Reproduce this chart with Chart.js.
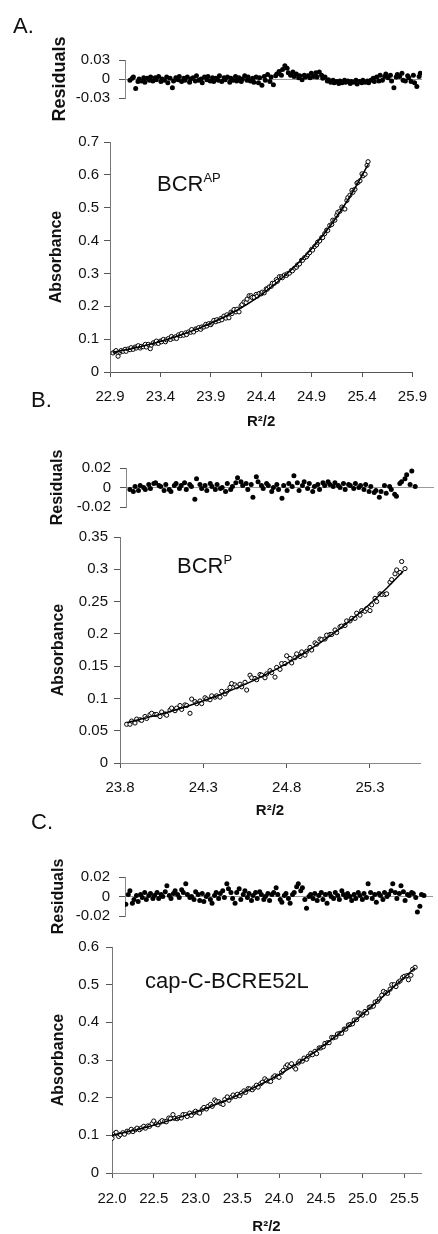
<!DOCTYPE html>
<html>
<head>
<meta charset="utf-8">
<script src="https://cdn.jsdelivr.net/npm/chart.js@4.4.1/dist/chart.umd.min.js"></script>
<style>
  body { margin: 0; background: #fff; }
  #fig { position: relative; width: 438px; height: 1234px; overflow: hidden;
         font-family: "Liberation Sans", Arial, Helvetica, sans-serif; color: #111; }
  #fig canvas { position: absolute; left: 0; }
  .lbl { position: absolute; font-size: 22px; line-height: 22px; white-space: nowrap; }
  .lbl .sup { position: relative; top: -9px; font-size: 13px; }
</style>
</head>
<body>
<div id="fig">
  <canvas id="resA"></canvas>
  <canvas id="absA"></canvas>
  <canvas id="resB"></canvas>
  <canvas id="absB"></canvas>
  <canvas id="resC"></canvas>
  <canvas id="absC"></canvas>
  <div class="lbl" style="left:13px;top:15px">A.</div>
  <div class="lbl" style="left:31px;top:389px">B.</div>
  <div class="lbl" style="left:31px;top:811px">C.</div>
  <div class="lbl" style="left:157px;top:173px">BCR<span class="sup">AP</span></div>
  <div class="lbl" style="left:177px;top:555px">BCR<span class="sup">P</span></div>
  <div class="lbl" style="left:145px;top:970px">cap-C-BCRE52L</div>
</div>
<script>
// ---- panel A: BCR^AP ----
const xA = [22.93, 22.95, 22.96, 22.98, 23.00, 23.01, 23.03, 23.05, 23.06,
            23.08, 23.10, 23.11, 23.13, 23.15, 23.16, 23.18, 23.20, 23.21,
            23.23, 23.25, 23.26, 23.28, 23.30, 23.31, 23.33, 23.35, 23.36,
            23.38, 23.40, 23.41, 23.43, 23.45, 23.46, 23.48, 23.50, 23.51,
            23.53, 23.55, 23.56, 23.58, 23.60, 23.61, 23.63, 23.65, 23.66,
            23.68, 23.70, 23.71, 23.73, 23.75, 23.76, 23.78, 23.80, 23.81,
            23.83, 23.85, 23.86, 23.88, 23.90, 23.91, 23.93, 23.95, 23.96,
            23.98, 24.00, 24.01, 24.03, 24.05, 24.06, 24.08, 24.10, 24.11,
            24.13, 24.15, 24.16, 24.18, 24.20, 24.21, 24.23, 24.25, 24.26,
            24.28, 24.30, 24.31, 24.33, 24.35, 24.36, 24.38, 24.40, 24.41,
            24.43, 24.45, 24.46, 24.48, 24.50, 24.51, 24.53, 24.55, 24.56,
            24.58, 24.60, 24.61, 24.63, 24.65, 24.66, 24.68, 24.70, 24.71,
            24.73, 24.75, 24.76, 24.78, 24.80, 24.81, 24.83, 24.85, 24.86,
            24.88, 24.90, 24.91, 24.93, 24.95, 24.96, 24.98, 25.00, 25.01,
            25.03, 25.05, 25.06, 25.08, 25.10, 25.11, 25.13, 25.15, 25.16,
            25.18, 25.20, 25.21, 25.23, 25.25, 25.26, 25.28, 25.30, 25.31,
            25.33, 25.35, 25.36, 25.38, 25.40, 25.41, 25.43, 25.45, 25.46];
const absA = [0.058, 0.062, 0.065, 0.048, 0.060, 0.065, 0.063, 0.069, 0.063,
              0.070, 0.068, 0.074, 0.069, 0.076, 0.073, 0.080, 0.073, 0.078,
              0.077, 0.084, 0.076, 0.084, 0.071, 0.082, 0.089, 0.088, 0.094,
              0.087, 0.094, 0.092, 0.099, 0.092, 0.098, 0.102, 0.099, 0.108,
              0.103, 0.107, 0.102, 0.113, 0.111, 0.117, 0.112, 0.119, 0.114,
              0.122, 0.121, 0.129, 0.122, 0.131, 0.129, 0.135, 0.130, 0.137,
              0.137, 0.145, 0.140, 0.147, 0.144, 0.149, 0.157, 0.153, 0.159,
              0.156, 0.163, 0.159, 0.170, 0.164, 0.174, 0.165, 0.182, 0.178,
              0.190, 0.183, 0.191, 0.183, 0.201, 0.205, 0.213, 0.211, 0.222,
              0.232, 0.232, 0.227, 0.227, 0.236, 0.231, 0.239, 0.238, 0.243,
              0.241, 0.253, 0.252, 0.259, 0.261, 0.270, 0.270, 0.281, 0.276,
              0.290, 0.290, 0.287, 0.295, 0.294, 0.299, 0.301, 0.309, 0.308,
              0.316, 0.319, 0.326, 0.329, 0.340, 0.340, 0.348, 0.351, 0.357,
              0.363, 0.373, 0.371, 0.382, 0.387, 0.395, 0.399, 0.409, 0.409,
              0.421, 0.432, 0.431, 0.446, 0.449, 0.462, 0.462, 0.477, 0.486,
              0.489, 0.502, 0.497, 0.496, 0.522, 0.531, 0.538, 0.553, 0.547,
              0.556, 0.575, 0.577, 0.582, 0.603, 0.597, 0.602, 0.629, 0.640];
const resA = [-0.002, 0.001, 0.003, -0.015, -0.004, 0.000, -0.003, 0.002, -0.005,
              0.001, -0.002, 0.003, -0.003, 0.002, -0.001, 0.004, -0.004, 0.000,
              -0.002, 0.003, -0.006, 0.001, -0.014, -0.003, 0.002, -0.001, 0.004,
              -0.004, 0.001, -0.002, 0.003, -0.005, 0.000, 0.002, -0.003, 0.005,
              -0.002, 0.000, -0.006, 0.003, -0.001, 0.004, -0.003, 0.002, -0.004,
              0.001, -0.002, 0.005, -0.004, 0.002, -0.001, 0.003, -0.005, 0.001,
              -0.002, 0.004, -0.003, 0.002, -0.004, 0.000, 0.005, -0.002, 0.003,
              -0.003, 0.001, -0.005, 0.003, -0.006, 0.002, -0.010, 0.004, -0.002,
              0.007, -0.004, 0.003, -0.009, 0.005, 0.008, 0.012, 0.006, 0.015,
              0.021, 0.017, 0.010, 0.006, 0.011, 0.004, 0.008, 0.002, 0.005,
              -0.001, 0.006, 0.003, 0.005, 0.002, 0.009, 0.004, 0.010, 0.003,
              0.011, 0.006, 0.001, 0.003, -0.003, -0.001, -0.005, -0.002, -0.006,
              -0.004, -0.007, -0.003, -0.006, -0.002, -0.005, -0.003, -0.007, -0.004,
              -0.005, -0.002, -0.008, -0.004, -0.006, -0.002, -0.005, -0.003, -0.006,
              -0.002, 0.001, -0.004, 0.003, -0.003, 0.006, -0.002, 0.004, 0.008,
              0.002, 0.006, -0.003, -0.014, 0.003, 0.007, 0.004, 0.009, -0.002,
              -0.003, 0.005, 0.002, -0.004, 0.006, -0.006, -0.012, 0.004, 0.009];
const fitXA = [22.93, 23.2, 23.5, 23.8, 24.1, 24.4, 24.7, 24.9, 25.1, 25.3, 25.46];
const fitYA = [0.060, 0.077, 0.102, 0.135, 0.178, 0.235, 0.311, 0.375, 0.451, 0.544, 0.631];
const ticksA = [22.9, 23.4, 23.9, 24.4, 24.9, 25.4, 25.9];
const resTicksA = [-0.03, 0, 0.03];

// ---- panel B: BCR^P ----
const xB = [23.84, 23.86, 23.87, 23.89, 23.90, 23.92, 23.93, 23.95, 23.96, 23.98,
            23.99, 24.01, 24.02, 24.04, 24.05, 24.07, 24.08, 24.10, 24.11, 24.13,
            24.14, 24.16, 24.17, 24.19, 24.20, 24.22, 24.23, 24.25, 24.26, 24.28,
            24.29, 24.31, 24.32, 24.34, 24.35, 24.37, 24.38, 24.40, 24.41, 24.43,
            24.44, 24.46, 24.47, 24.49, 24.50, 24.52, 24.53, 24.55, 24.56, 24.58,
            24.59, 24.61, 24.62, 24.64, 24.65, 24.67, 24.68, 24.70, 24.71, 24.73,
            24.74, 24.76, 24.77, 24.79, 24.80, 24.82, 24.83, 24.85, 24.86, 24.88,
            24.89, 24.91, 24.92, 24.94, 24.95, 24.97, 24.98, 25.00, 25.01, 25.03,
            25.04, 25.06, 25.07, 25.09, 25.10, 25.12, 25.13, 25.15, 25.16, 25.18,
            25.19, 25.21, 25.22, 25.24, 25.25, 25.27, 25.28, 25.30, 25.31, 25.33,
            25.34, 25.36, 25.37, 25.39, 25.40, 25.42, 25.43, 25.45, 25.46, 25.48,
            25.49, 25.51];
const absB = [0.060, 0.060, 0.065, 0.062, 0.068, 0.067, 0.066, 0.072, 0.069, 0.075,
              0.077, 0.075, 0.075, 0.072, 0.079, 0.076, 0.074, 0.082, 0.085, 0.081,
              0.085, 0.089, 0.083, 0.090, 0.089, 0.077, 0.099, 0.095, 0.092, 0.096,
              0.092, 0.101, 0.099, 0.098, 0.104, 0.102, 0.104, 0.102, 0.111, 0.107,
              0.111, 0.117, 0.123, 0.121, 0.118, 0.122, 0.118, 0.125, 0.113, 0.136,
              0.132, 0.131, 0.129, 0.137, 0.136, 0.132, 0.138, 0.143, 0.140, 0.133,
              0.148, 0.145, 0.154, 0.154, 0.166, 0.162, 0.155, 0.163, 0.169, 0.165,
              0.172, 0.167, 0.173, 0.179, 0.175, 0.186, 0.184, 0.192, 0.191, 0.192,
              0.198, 0.199, 0.199, 0.206, 0.202, 0.211, 0.212, 0.213, 0.220, 0.220,
              0.224, 0.224, 0.232, 0.229, 0.236, 0.235, 0.239, 0.236, 0.245, 0.255,
              0.250, 0.262, 0.261, 0.261, 0.262, 0.280, 0.284, 0.293, 0.299, 0.295,
              0.312, 0.301];
const resB = [-0.002, -0.004, 0.001, -0.003, 0.002, 0.000, -0.002, 0.003, -0.001, 0.004,
              0.005, 0.002, 0.001, -0.003, 0.003, -0.002, -0.004, 0.002, 0.004, -0.001,
              0.002, 0.005, -0.002, 0.003, 0.001, -0.012, 0.009, 0.003, -0.001, 0.002,
              -0.003, 0.004, 0.001, -0.002, 0.003, -0.001, 0.000, -0.004, 0.004, -0.002,
              0.001, 0.005, 0.010, 0.006, 0.002, 0.004, -0.002, 0.003, -0.010, 0.011,
              0.006, 0.002, -0.001, 0.004, 0.002, -0.004, 0.000, 0.003, -0.002, -0.011,
              0.002, -0.003, 0.004, 0.001, 0.012, 0.005, -0.003, 0.002, 0.006, -0.001,
              0.004, -0.004, 0.001, 0.003, -0.002, 0.005, 0.002, 0.006, 0.003, 0.001,
              0.005, 0.002, 0.000, 0.004, -0.002, 0.003, 0.002, -0.001, 0.004, 0.000,
              0.002, -0.002, 0.003, -0.004, 0.001, -0.005, -0.003, -0.010, -0.004, 0.002,
              -0.006, 0.001, -0.002, -0.007, -0.009, 0.004, 0.006, 0.009, 0.013, 0.003,
              0.017, 0.001];
const fitXB = [23.84, 24.0, 24.2, 24.4, 24.6, 24.8, 25.0, 25.2, 25.4, 25.5];
const fitYB = [0.0625, 0.0726, 0.0876, 0.1057, 0.1276, 0.154, 0.1859, 0.2243, 0.2707, 0.2974];
const ticksB = [23.8, 24.3, 24.8, 25.3];
const resTicksB = [-0.02, 0, 0.02];

// ---- panel C: cap-C-BCRE52L ----
const xC = [22.00, 22.03, 22.05, 22.08, 22.10, 22.13, 22.15, 22.18, 22.20, 22.23,
            22.25, 22.28, 22.30, 22.33, 22.35, 22.38, 22.40, 22.43, 22.45, 22.48,
            22.50, 22.53, 22.55, 22.58, 22.60, 22.63, 22.65, 22.68, 22.70, 22.73,
            22.75, 22.78, 22.80, 22.83, 22.85, 22.88, 22.90, 22.93, 22.95, 22.98,
            23.00, 23.03, 23.05, 23.08, 23.10, 23.13, 23.15, 23.18, 23.20, 23.23,
            23.25, 23.28, 23.30, 23.33, 23.35, 23.38, 23.40, 23.43, 23.45, 23.48,
            23.50, 23.53, 23.55, 23.58, 23.60, 23.63, 23.65, 23.68, 23.70, 23.73,
            23.75, 23.78, 23.80, 23.83, 23.85, 23.88, 23.90, 23.93, 23.95, 23.98,
            24.00, 24.03, 24.05, 24.08, 24.10, 24.13, 24.15, 24.18, 24.20, 24.23,
            24.25, 24.28, 24.30, 24.33, 24.35, 24.38, 24.40, 24.43, 24.45, 24.48,
            24.50, 24.53, 24.55, 24.58, 24.60, 24.63, 24.65, 24.68, 24.70, 24.73,
            24.75, 24.78, 24.80, 24.83, 24.85, 24.88, 24.90, 24.93, 24.95, 24.98,
            25.00, 25.03, 25.05, 25.08, 25.10, 25.13, 25.15, 25.18, 25.20, 25.23,
            25.25, 25.28, 25.30, 25.33, 25.35, 25.38, 25.40, 25.43, 25.45, 25.48,
            25.50, 25.53, 25.55, 25.58, 25.60, 25.63];
const absC = [0.092, 0.104, 0.108, 0.097, 0.102, 0.107, 0.103, 0.111, 0.109, 0.116,
              0.110, 0.115, 0.119, 0.115, 0.119, 0.124, 0.119, 0.125, 0.124, 0.131,
              0.138, 0.130, 0.128, 0.135, 0.139, 0.137, 0.136, 0.146, 0.144, 0.155,
              0.145, 0.144, 0.147, 0.146, 0.155, 0.155, 0.150, 0.159, 0.153, 0.160,
              0.164, 0.161, 0.159, 0.169, 0.174, 0.170, 0.177, 0.182, 0.177, 0.194,
              0.190, 0.189, 0.185, 0.182, 0.195, 0.202, 0.193, 0.201, 0.207, 0.203,
              0.209, 0.205, 0.212, 0.218, 0.214, 0.224, 0.223, 0.221, 0.226, 0.233,
              0.228, 0.237, 0.241, 0.250, 0.245, 0.244, 0.243, 0.254, 0.258, 0.257,
              0.254, 0.267, 0.272, 0.282, 0.287, 0.284, 0.290, 0.282, 0.276, 0.292,
              0.297, 0.297, 0.305, 0.302, 0.310, 0.318, 0.314, 0.323, 0.317, 0.332,
              0.332, 0.335, 0.344, 0.346, 0.346, 0.360, 0.359, 0.361, 0.369, 0.371,
              0.371, 0.382, 0.382, 0.393, 0.394, 0.396, 0.406, 0.407, 0.425, 0.422,
              0.419, 0.429, 0.425, 0.440, 0.441, 0.443, 0.454, 0.456, 0.462, 0.472,
              0.482, 0.479, 0.477, 0.488, 0.500, 0.500, 0.495, 0.507, 0.510, 0.519,
              0.522, 0.524, 0.513, 0.525, 0.541, 0.546];
const resC = [-0.008, 0.002, 0.006, -0.007, -0.003, 0.001, -0.005, 0.002, -0.001, 0.004,
              -0.003, 0.001, 0.003, -0.002, 0.001, 0.004, -0.002, 0.002, 0.000, 0.005,
              0.011, 0.001, -0.002, 0.003, 0.006, 0.002, -0.001, 0.007, 0.004, 0.013,
              0.002, -0.001, 0.000, -0.003, 0.005, 0.002, -0.004, 0.003, -0.005, 0.000,
              0.002, -0.003, -0.007, 0.001, 0.004, -0.002, 0.003, 0.006, -0.001, 0.013,
              0.008, 0.004, -0.002, -0.007, 0.004, 0.008, -0.003, 0.002, 0.006, -0.001,
              0.003, -0.004, 0.001, 0.004, -0.002, 0.005, 0.002, -0.003, 0.000, 0.003,
              -0.004, 0.002, 0.004, 0.009, 0.002, -0.003, -0.006, 0.001, 0.003, -0.002,
              -0.007, 0.002, 0.004, 0.010, 0.013, 0.006, 0.009, -0.003, -0.012, 0.000,
              0.002, -0.002, 0.003, -0.004, 0.001, 0.004, -0.003, 0.002, -0.007, 0.003,
              0.000, -0.002, 0.004, 0.001, -0.003, 0.006, 0.002, -0.001, 0.003, 0.000,
              -0.004, 0.002, -0.002, 0.004, 0.001, -0.003, 0.003, -0.001, 0.013, 0.004,
              -0.002, 0.002, -0.006, 0.003, 0.001, -0.003, 0.004, 0.000, 0.002, 0.006,
              0.013, 0.004, -0.002, 0.003, 0.011, 0.005, -0.004, 0.002, 0.001, 0.004,
              0.003, -0.001, -0.016, -0.010, 0.002, 0.001];
const fitXC = [22.0, 22.4, 22.8, 23.2, 23.6, 24.0, 24.4, 24.8, 25.0, 25.2, 25.4, 25.63];
const fitYC = [0.100, 0.121, 0.147, 0.178, 0.216, 0.261, 0.317, 0.384, 0.421, 0.460, 0.499, 0.545];
const ticksC = [22.0, 22.5, 23.0, 23.5, 24.0, 24.5, 25.0, 25.5];
const resTicksC = [-0.02, 0, 0.02];

const FONT = '"Liberation Sans", Arial, Helvetica, sans-serif';
Chart.defaults.font.family = FONT;
Chart.defaults.color = '#111';

function pts(xs, ys) {
  return xs.map((x, i) => ({ x: x, y: ys[i] }));
}
function num(v) {
  return String(Math.round(v * 1000) / 1000);
}
function setCanvas(id, top, height) {
  const c = document.getElementById(id);
  c.width = 438;
  c.height = height;
  c.style.top = top + 'px';
  return c;
}

// residuals strip: filled dots, grey zero line
function residualChart(id, g, xs, rs, yTicks) {
  const cv = setCanvas(id, g.top, g.height);
  return new Chart(cv, {
    type: 'scatter',
    data: {
      datasets: [{
        data: pts(xs, rs),
        pointRadius: 2.5,
        pointBorderWidth: 0,
        pointBackgroundColor: '#000'
      }]
    },
    options: {
      responsive: false,
      animation: false,
      events: [],
      layout: { padding: { left: 0, right: 438 - g.R, top: g.T - g.top, bottom: g.top + g.height - g.B } },
      plugins: { legend: { display: false }, tooltip: { enabled: false } },
      scales: {
        x: { type: 'linear', display: false, min: g.xMin, max: g.xMax },
        y: {
          min: yTicks[0],
          max: yTicks[yTicks.length - 1],
          afterBuildTicks: s => { s.ticks = yTicks.map(v => ({ value: v })); },
          afterFit: s => { s.width = g.L; },
          grid: {
            color: c => (c.tick && c.tick.value === 0) ? '#9a9a9a' : 'rgba(0,0,0,0)',
            tickColor: '#555',
            tickLength: 6
          },
          // grid lines share border.dash in v4, so keep it solid for the zero line
          border: { color: '#888' },
          ticks: { padding: 9, autoSkip: false, font: { size: 15 }, callback: num },
          title: {
            display: true,
            text: 'Residuals',
            font: { size: g.titleSize, weight: 'bold', lineHeight: 1 },
            padding: { top: g.titleX - g.titleSize / 2, bottom: 0 }
          }
        }
      }
    }
  });
}

// absorbance panel: open circles plus the fitted curve
function absorbanceChart(id, g, xs, ys, fx, fy, xTicks) {
  const cv = setCanvas(id, g.top, g.height);
  return new Chart(cv, {
    type: 'scatter',
    data: {
      datasets: [{
        type: 'line',
        data: pts(fx, fy),
        borderColor: '#000',
        borderWidth: 1.5,
        pointRadius: 0,
        cubicInterpolationMode: 'monotone',
        fill: false,
        order: 0
      }, {
        data: pts(xs, ys),
        pointRadius: 2.1,
        pointBorderWidth: 1,
        pointBorderColor: '#000',
        pointBackgroundColor: '#fff',
        order: 1
      }]
    },
    options: {
      responsive: false,
      animation: false,
      events: [],
      layout: { padding: { left: 0, right: 438 - g.R, top: g.T - g.top, bottom: 0 } },
      plugins: { legend: { display: false }, tooltip: { enabled: false } },
      scales: {
        x: {
          type: 'linear',
          min: g.xMin,
          max: g.xMax,
          afterBuildTicks: s => { s.ticks = xTicks.map(v => ({ value: v })); },
          afterFit: s => { s.height = g.top + g.height - g.B; },
          grid: { drawOnChartArea: false, tickColor: '#555', tickLength: 5 },
          border: { color: g.xAxisColor, dash: g.xDash },
          ticks: { padding: g.xPad, font: { size: 15 }, autoSkip: false, maxRotation: 0,
                   callback: v => v.toFixed(1) },
          title: {
            display: true,
            text: 'R\u00b2/2',
            font: { size: 15, weight: 'bold', lineHeight: 1 },
            padding: { top: 0, bottom: 0 }
          }
        },
        y: {
          min: 0,
          max: g.yMax,
          afterFit: s => { s.width = g.L; },
          grid: { drawOnChartArea: false, tickColor: '#555', tickLength: 6 },
          border: { color: '#777', dash: [3, 2] },
          ticks: { stepSize: g.yStep, padding: g.yPad, autoSkip: false, font: { size: 15 }, callback: num },
          title: {
            display: true,
            text: 'Absorbance',
            font: { size: 16, weight: 'bold', lineHeight: 1 },
            padding: { top: g.titleX - 8, bottom: 0 }
          }
        }
      }
    }
  });
}

residualChart('resA', { top: 30, height: 100, L: 125, R: 422, T: 60, B: 98,
  xMin: 22.887, xMax: 25.475, titleX: 60, titleSize: 18 }, xA, resA, resTicksA);
absorbanceChart('absA', { top: 128, height: 301, L: 110, R: 419, T: 141, B: 372,
  xMin: 22.9, xMax: 25.9, yMax: 0.7, yStep: 0.1, titleX: 57, yPad: 5, xPad: 11,
  xAxisColor: '#555', xDash: [] }, xA, absA, fitXA, fitYA, ticksA);

residualChart('resB', { top: 440, height: 92, L: 126, R: 438, T: 468, B: 507,
  xMin: 23.817, xMax: 25.62, titleX: 57.5, titleSize: 16 }, xB, resB, resTicksB);
absorbanceChart('absB', { top: 522, height: 296, L: 120, R: 420, T: 534, B: 763,
  xMin: 23.8, xMax: 25.6, yMax: 0.35, yStep: 0.05, titleX: 59, yPad: 6, xPad: 10.5,
  xAxisColor: '#888', xDash: [10, 4] }, xB, absB, fitXB, fitYB, ticksB);

residualChart('resC', { top: 850, height: 92, L: 125, R: 433, T: 877, B: 916,
  xMin: 21.99, xMax: 25.74, titleX: 59, titleSize: 16 }, xC, resC, resTicksC);
absorbanceChart('absC', { top: 931, height: 303, L: 112, R: 421, T: 943, B: 1173,
  xMin: 22.0, xMax: 25.7, yMax: 0.6, yStep: 0.1, titleX: 59, yPad: 7, xPad: 12,
  xAxisColor: '#888', xDash: [10, 4] }, xC, absC, fitXC, fitYC, ticksC);
</script>
</body>
</html>
